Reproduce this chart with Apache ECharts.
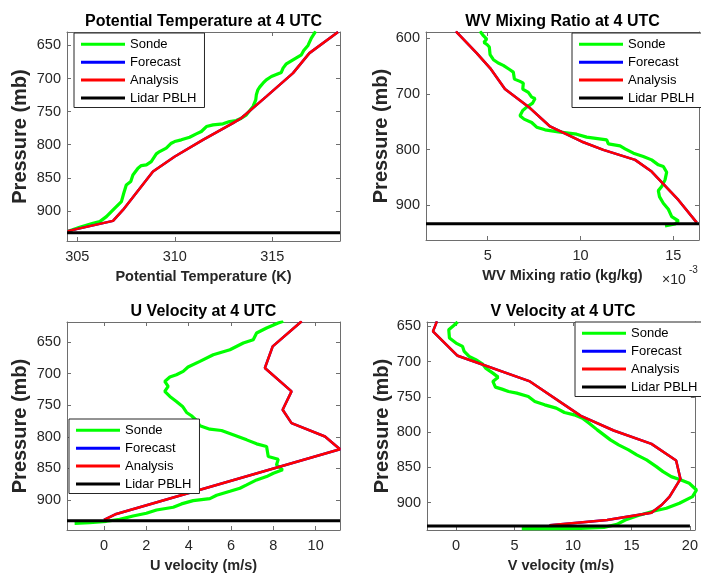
<!DOCTYPE html>
<html><head><meta charset="utf-8">
<script src="https://cdn.jsdelivr.net/npm/echarts@6/dist/echarts.min.js"></script>
<style>html,body{margin:0;padding:0;background:#fff}#c{width:701px;height:575px}</style>
</head><body><div id="c"></div>
<script>
// ---------------- DATA ----------------
const legendNames = ['Sonde', 'Forecast', 'Analysis', 'Lidar PBLH'];
const pblhPressure = 933;   // mb

// Panel 1: potential temperature (K) vs pressure (mb)
const thetaSonde = [[304.5,931],[305.12,924.7],[305.8,918.6],[306.15,916.1],[306.49,908.6],[306.91,896.0],[307.26,885.9],[307.38,873.3],[307.51,860.7],[307.74,855.6],[307.85,845.6],[308.11,835.5],[308.28,831.5],[308.54,830.4],[308.79,825.4],[309.05,813.8],[309.22,810.3],[309.56,805.2],[309.82,797.7],[309.99,795.2],[310.33,792.6],[310.76,788.6],[311.10,783.6],[311.36,780.0],[311.62,772.5],[311.96,770.0],[312.47,768.4],[312.81,764.9],[313.15,763.4],[313.41,759.9],[313.67,754.8],[314.01,742.2],[314.15,732.2],[314.18,724.6],[314.26,717.0],[314.35,713.0],[314.52,707.0],[314.69,701.9],[314.95,696.9],[315.46,690.8],[315.55,684.3],[315.72,677.7],[316.06,671.7],[316.49,664.1],[316.61,657.6],[316.83,650.0],[317.0,638.9],[317.22,628.8]];
const thetaAnalysis = [[304.5,930.5],[306.83,915],[307.34,898.5],[308.88,840.5],[310.0,817.8],[311.44,792.6],[312.98,767.4],[313.4,760],[314.7,727],[316.06,691.8],[316.9,661.6],[318.37,629.8]];
const thetaForecast = thetaAnalysis; // forecast lies under the analysis curve
const thetaRange = [304.47, 318.47];
const thetaTicks = [305, 310, 315];
const p1Range = [629.7, 945.4];
const p1Ticks = [650, 700, 750, 800, 850, 900];

// Panel 2: WV mixing ratio (x 1e-3 kg/kg)
const wvSonde = [[4.59,588.0],[4.77,595.8],[4.95,601.8],[4.80,607.8],[4.98,612.0],[5.09,616.2],[5.13,629.9],[5.31,638.9],[5.57,644.9],[5.84,649.1],[6.20,656.9],[6.38,661.1],[6.44,673.7],[6.74,677.8],[6.92,680.8],[6.89,691.6],[7.19,697.6],[7.37,706.0],[7.55,708.4],[7.42,716.8],[7.10,724.0],[6.89,729.9],[6.74,739.5],[6.96,745.5],[7.37,751.5],[7.64,759.9],[8.09,764.7],[8.81,768.3],[9.79,772.5],[10.33,777.8],[11.41,782.6],[11.50,789.8],[12.13,793.4],[12.40,798.8],[12.85,806.6],[13.38,812.6],[13.83,818.6],[14.19,827.5],[14.46,830.5],[14.64,840.7],[14.55,854.5],[14.37,866.5],[14.19,873.7],[14.25,884.4],[14.46,896.4],[14.73,907.2],[14.91,920.4],[15.27,928.1],[15.09,933.5],[14.55,937.1]];
const wvAnalysis = [[3.29,588],[4.41,627],[5.13,653.9],[5.93,691.6],[7.28,725.7],[8.36,758.7],[10.05,785.6],[11.23,800.6],[12.94,818.6],[13.83,839.5],[15.27,890.4],[16.26,931.1]];
const wvForecast = wvAnalysis;
const wvRange = [1.68, 16.38];
const wvTicks = [5, 10, 15];
const p2Range = [589.2, 962.3];
const p2Ticks = [600, 700, 800, 900];

// Panel 3: U velocity (m/s)
const uSonde = [[-1.39,937.0],[-0.68,936.0],[0.11,933.8],[0.74,930.7],[1.37,925.4],[2.00,921.1],[2.48,915.9],[3.27,911.6],[3.66,906.3],[4.21,901.1],[5.00,897.9],[5.32,892.6],[5.95,886.3],[6.42,881.5],[6.74,876.2],[7.21,868.3],[7.68,863.0],[8.00,857.7],[8.44,852.4],[8.15,844.5],[8.23,835.5],[7.76,831.3],[7.68,815.4],[7.21,811.2],[6.74,804.9],[6.10,796.9],[5.55,790.1],[5.00,788.0],[4.53,782.7],[4.37,774.2],[4.13,766.8],[3.90,761.5],[3.71,752.0],[3.42,744.1],[3.11,736.2],[2.87,728.2],[3.03,720.3],[2.87,712.4],[3.11,705.5],[3.42,701.8],[3.74,696.5],[3.97,689.6],[4.53,680.7],[5.16,670.1],[5.95,662.2],[6.58,651.6],[7.05,646.3],[7.21,635.7],[7.68,627.8],[8.23,619.9],[8.47,617.2]];
const uAnalysis = [[0.0,931.7],[0.58,922.2],[11.15,819.7],[10.44,799.6],[8.86,778.4],[8.44,757.3],[8.86,728.2],[7.60,691.2],[7.97,656.9],[9.34,617.2]];
const uForecast = uAnalysis;
const uRange = [-1.75, 11.15];
const uTicks = [0, 2, 4, 6, 8, 10];
const p3Range = [618.3, 947.6];
const p3Ticks = [650, 700, 750, 800, 850, 900];

// Panel 4: V velocity (m/s)
const vSonde = [[5.62,936.9],[7.87,936.9],[10.67,936.4],[12.64,935.0],[13.76,930.8],[14.47,924.6],[15.45,918.9],[16.85,912.3],[17.98,908.0],[19.10,900.9],[20.22,891.5],[20.56,882.0],[19.94,872.5],[19.24,867.8],[18.40,863.1],[17.70,856.0],[17.13,848.9],[16.29,839.4],[15.45,832.3],[14.75,825.2],[13.90,818.1],[13.20,811.0],[12.64,803.9],[12.08,796.8],[11.38,787.3],[10.81,780.2],[10.11,775.5],[9.27,772.2],[8.57,766.0],[7.58,761.3],[6.74,756.5],[6.18,749.4],[5.20,744.7],[4.49,742.3],[3.93,739.0],[3.37,736.2],[3.15,728.1],[3.60,722.0],[3.15,716.3],[2.53,709.2],[2.25,703.0],[1.69,697.3],[1.12,692.6],[0.70,685.5],[0.56,678.4],[0.0,673.7],[-0.56,666.6],[-0.62,654.7],[-0.22,649.1],[0.14,643.8]];
const vAnalysis = [[8.0,932.2],[10.39,928.4],[12.92,924.6],[14.61,919.9],[16.71,914.2],[17.6,903],[18.26,891.5],[19.19,866.4],[18.82,840.3],[16.71,816.7],[13.48,797.7],[10.67,776.9],[6.32,728.1],[0.14,691.7],[-1.97,657.1],[-1.63,642.9]];
const vForecast = vAnalysis;
const vRange = [-2.48, 20.42];
const vTicks = [0, 5, 10, 15, 20];
const vPblhEnd = 20;
const p4Range = [643.8, 938.8];
const p4Ticks = [650, 700, 750, 800, 850, 900];

// ---------------- CHART ----------------
const FONT = "'Liberation Sans', Arial, Helvetica, sans-serif";
const AX = '#6e6e6e', TXT = '#262626';

const panels = [
  {title:'Potential Temperature at 4 UTC', xname:'Potential Temperature (K)', grid:{left:67, top:32, width:273, height:209},
   sonde:thetaSonde, fc:thetaForecast, an:thetaAnalysis, xr:thetaRange, xt:thetaTicks, yr:p1Range, yt:p1Ticks, pblhEnd:thetaRange[1],
   yGap:37, xGap:28, legend:{left:74, top:33}},
  {title:'WV Mixing Ratio at 4 UTC', xname:'WV Mixing ratio (kg/kg)', grid:{left:426, top:32, width:273, height:208},
   sonde:wvSonde, fc:wvForecast, an:wvAnalysis, xr:wvRange, xt:wvTicks, yr:p2Range, yt:p2Ticks, pblhEnd:wvRange[1],
   yGap:34, xGap:28, legend:{left:572, top:33}},
  {title:'U Velocity at 4 UTC', xname:'U velocity (m/s)', grid:{left:67, top:322, width:273, height:208},
   sonde:uSonde, fc:uForecast, an:uAnalysis, xr:uRange, xt:uTicks, yr:p3Range, yt:p3Ticks, pblhEnd:uRange[1],
   yGap:37, xGap:28, legend:{left:69, top:419}},
  {title:'V Velocity at 4 UTC', xname:'V velocity (m/s)', grid:{left:427, top:322, width:272, height:208},
   sonde:vSonde, fc:vForecast, an:vAnalysis, xr:vRange, xt:vTicks, yr:p4Range, yt:p4Ticks, pblhEnd:vPblhEnd,
   yGap:34, xGap:28, legend:{left:575, top:322}}
];

const option = {animation:false, backgroundColor:'#fff', title:[], grid:[], xAxis:[], yAxis:[], series:[], legend:[],
  textStyle:{fontFamily:FONT}};

function tickAxis(extra, ticks, showLabel){
  return Object.assign({
    type:'value', splitLine:{show:false},
    axisLine:{show:true, onZero:false, lineStyle:{color:AX, width:1}},
    axisTick:{show:true, inside:true, length:4, customValues:ticks, lineStyle:{color:AX, width:1}},
    axisLabel:{show:showLabel, customValues:ticks, fontSize:14.5, color:TXT, fontFamily:FONT}
  }, extra);
}

panels.forEach((p, i) => {
  const g = p.grid;
  option.grid.push({left:g.left, top:g.top, width:g.width, height:g.height, containLabel:false});
  option.title.push({text:p.title, left:g.left + g.width/2, top:g.top - 18, textAlign:'center', padding:0,
    textStyle:{fontSize:16, fontWeight:'bold', color:'#000', fontFamily:FONT}});
  const xb = tickAxis({gridIndex:i, min:p.xr[0], max:p.xr[1], position:'bottom',
    name:p.xname, nameLocation:'middle', nameGap:p.xGap,
    nameTextStyle:{fontSize:14.5, fontWeight:'bold', color:TXT, fontFamily:FONT}}, p.xt, true);
  xb.axisLabel.margin = 8;
  const xt = tickAxis({gridIndex:i, min:p.xr[0], max:p.xr[1], position:'top'}, p.xt, false);
  const yl = tickAxis({gridIndex:i, min:p.yr[0], max:p.yr[1], inverse:true, position:'left',
    name:'Pressure (mb)', nameLocation:'middle', nameGap:p.yGap, nameRotate:90,
    nameTextStyle:{fontSize:20, fontWeight:'bold', color:TXT, fontFamily:FONT}}, p.yt, true);
  yl.axisLabel.margin = 6;
  const yr = tickAxis({gridIndex:i, min:p.yr[0], max:p.yr[1], inverse:true, position:'right'}, p.yt, false);
  option.xAxis.push(xb, xt);
  option.yAxis.push(yl, yr);
  const xi = 2*i, yi = 2*i;
  const mk = (name, data, color, w) => ({name, type:'line', xAxisIndex:xi, yAxisIndex:yi, data,
    symbol:'none', showSymbol:false, clip:true, color, itemStyle:{color},
    lineStyle:{color, width:w}, emphasis:{disabled:true}});
  option.series.push(mk('Sonde', p.sonde, '#00ff00', 3.2));
  option.series.push(mk('Forecast', p.fc, '#0000ff', 2.5));
  option.series.push(mk('Analysis', p.an, '#ff0000', 2.5));
  option.series.push(mk('Lidar PBLH', [[p.xr[0], pblhPressure],[p.pblhEnd, pblhPressure]], '#000000', 3));
  option.legend.push({orient:'vertical', left:p.legend.left, top:p.legend.top, data:legendNames,
    icon:'rect', itemWidth:44, itemHeight:3, itemGap:4.9, padding:[4.8,8,3,7],
    borderColor:TXT, borderWidth:1, borderRadius:0, backgroundColor:'#fff', selectedMode:false,
    itemStyle:{borderWidth:0},
    textStyle:{fontSize:13, color:'#000', fontFamily:FONT}});
});

option.graphic = [
  {type:'text', left:662, top:273, style:{text:'×10', fontSize:14, fill:TXT, fontFamily:FONT}},
  {type:'text', left:689, top:265, style:{text:'-3', fontSize:10, fill:TXT, fontFamily:FONT}}
];

const chart = echarts.init(document.getElementById('c'), null, {renderer:'canvas'});
chart.setOption(option);
</script></body></html>
